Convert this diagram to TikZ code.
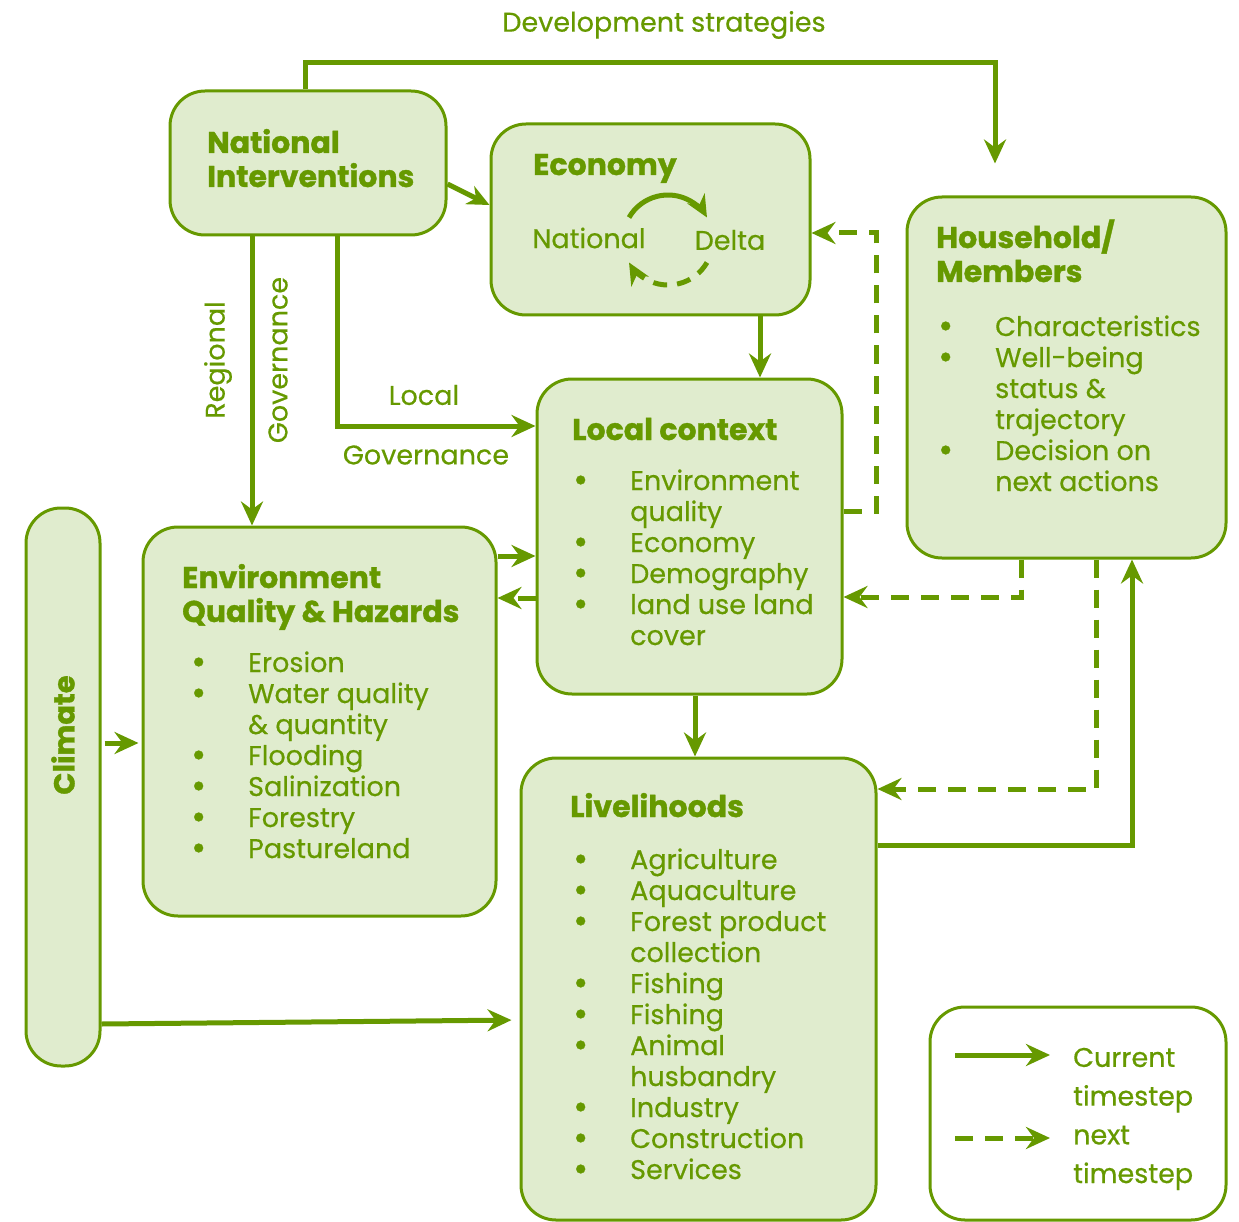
\documentclass[tikz,border=0pt]{standalone}
\usepackage{fontspec}
\setmainfont{Poppins}[UprightFeatures={FakeBold=0.5}, BoldFeatures={FakeBold=1.2}]
\usetikzlibrary{arrows.meta}
\definecolor{gr}{RGB}{102,153,0}
\definecolor{lf}{RGB}{224,236,206}
\newlength{\bulw}
\setlength{\bulw}{57pt}
\newcommand{\bul}[1]{\makebox[\bulw][l]{\smash{\raisebox{-0.08em}{\scalebox{1.35}{•}}}}#1}
\newcommand{\cnt}[1]{\hspace*{\bulw}#1}
\begin{document}
\begin{tikzpicture}[x=1pt,y=-1pt,
 box/.style={draw=gr, line width=3pt, fill=lf, rounded corners=35pt, inner sep=0pt},
 arr/.style={draw=gr, line width=5pt, -{Stealth[length=24pt,width=22pt,inset=8pt]}},
 darr/.style={arr, dash pattern=on 18pt off 12pt},
 smarr/.style={draw=gr, line width=5pt, -{Stealth[length=22pt,width=20pt,inset=7pt]}},
 ttl/.style={text=gr, font=\fontsize{30}{34}\selectfont\bfseries, align=left, anchor=base west, inner sep=0pt},
 lst/.style={text=gr, font=\fontsize{27}{31}\selectfont, align=left, anchor=base west, inner sep=0pt},
 lbl/.style={text=gr, font=\fontsize{27}{31}\selectfont, inner sep=0pt}]
\useasboundingbox (0,0) rectangle (1239,1222);

% boxes
\node[box, minimum width=276pt, minimum height=144pt] (ni) at (308,163) {};
\node[box, minimum width=319pt, minimum height=191pt] (econ) at (650.5,219.5) {};
\node[box, minimum width=319pt, minimum height=361pt] (hh) at (1066.5,377.5) {};
\node[box, minimum width=305pt, minimum height=315pt] (local) at (689.5,536.5) {};
\node[box, minimum width=353pt, minimum height=389pt] (env) at (319.5,721.5) {};
\node[box, minimum width=74pt, minimum height=558pt] (clim) at (63,787) {};
\node[box, minimum width=355pt, minimum height=462pt] (liv) at (698.5,989) {};
\node[box, fill=white, minimum width=296pt, minimum height=213pt] (leg) at (1078,1113.5) {};

% titles (anchor = baseline of last line)
\node[ttl] (tni) at (207,187) {National\\Interventions};
\node[ttl] (tecon) at (533,175) {Economy};
\node[ttl] (thh) at (936,282) {Household/\\Members};
\node[ttl] (tlocal) at (572,440) {Local context};
\node[ttl] (tenv) at (182,622) {Environment\\Quality \& Hazards};
\node[ttl] (tliv) at (570,817) {Livelihoods};
\node[text=gr, font=\fontsize{29}{34}\selectfont\bfseries, rotate=90, inner sep=0pt] (tclim) at (63,735) {Climate};

% lists (anchor = baseline of last line)
\node[lst] (lhh) at (938,491) {\bul{Characteristics}\\\bul{Well-being}\\\cnt{status \&}\\\cnt{trajectory}\\\bul{Decision on}\\\cnt{next actions}};
\node[lst] (llocal) at (573,645) {\bul{Environment}\\\cnt{quality}\\\bul{Economy}\\\bul{Demography}\\\bul{land use land}\\\cnt{cover}};
\node[lst] (lenv) at (191,858) {\bul{Erosion}\\\bul{Water quality}\\\cnt{\& quantity}\\\bul{Flooding}\\\bul{Salinization}\\\bul{Forestry}\\\bul{Pastureland}};
\node[lst] (lliv) at (573,1179) {\bul{Agriculture}\\\bul{Aquaculture}\\\bul{Forest product}\\\cnt{collection}\\\bul{Fishing}\\\bul{Fishing}\\\bul{Animal}\\\cnt{husbandry}\\\bul{Industry}\\\bul{Construction}\\\bul{Services}};

% labels
\node[lbl] (ldev) at (664,25) {Development strategies};
\node[lbl] (lnat) at (589,238) {National};
\node[lbl] (ldel) at (730,240) {Delta};
\node[lbl] (lloc) at (424,395) {Local};
\node[lbl] (lgov) at (426,455) {Governance};
\node[lbl, rotate=90] (lreg) at (218,360) {Regional};
\node[lbl, rotate=90] (lgov2) at (278,360) {Governance};

% economy cycle
\draw[smarr] (668,240) ++(150:45pt) arc[start angle=150, end angle=30, radius=45pt];
\draw[smarr, dash pattern=on 14pt off 10pt] (668,240) ++(-30:45pt) arc[start angle=-30, end angle=-150, radius=45pt];

% connectors
\draw[arr] (ni.north -| 305,0) |- (995,63) -- ([yshift=32pt]hh.north -| 995,0);
\draw[smarr] (ni.east |- 0,184) -- (econ.west |- 0,205);
\draw[arr] (ni.south -| 252,0) -- (env.north -| 252,0);
\draw[arr] (ni.south -| 337,0) |- (local.west |- 0,426);
\draw[arr] (econ.south -| 760,0) -- (local.north -| 760,0);
\draw[darr] (local.east |- 0,511) -| (876,233) -- (econ.east |- 0,233);
\draw[arr] (env.east |- 0,556) -- (local.west |- 0,556);
\draw[darr] (local.west |- 0,598) -- (env.east |- 0,598);
\draw[darr] (hh.south -| 1021,0) |- (local.east |- 0,597);
\draw[darr] (hh.south -| 1096,0) |- (liv.east |- 0,789);
\draw[arr] (liv.east |- 0,845) -| (hh.south -| 1132,0);
\draw[arr] (local.south -| 695,0) -- (liv.north -| 695,0);
\draw[arr, shorten <=3pt, shorten >=3pt] (clim.east |- 0,743) -- (env.west |- 0,743);
\draw[arr, shorten >=8pt] (clim.east |- 0,1024) -- (liv.west |- 0,1020);

% legend
\coordinate (ls1) at (955,1055);
\coordinate (le1) at (1050,1055);
\coordinate (ls2) at (955,1138);
\coordinate (le2) at (1050,1138);
\draw[arr] (ls1) -- (le1);
\draw[darr] (ls2) -- (le2);
\node[lst, font=\fontsize{27}{38.7}\selectfont] (ltxt) at (1073,1183) {Current\\timestep\\next\\timestep};
\end{tikzpicture}
\end{document}
